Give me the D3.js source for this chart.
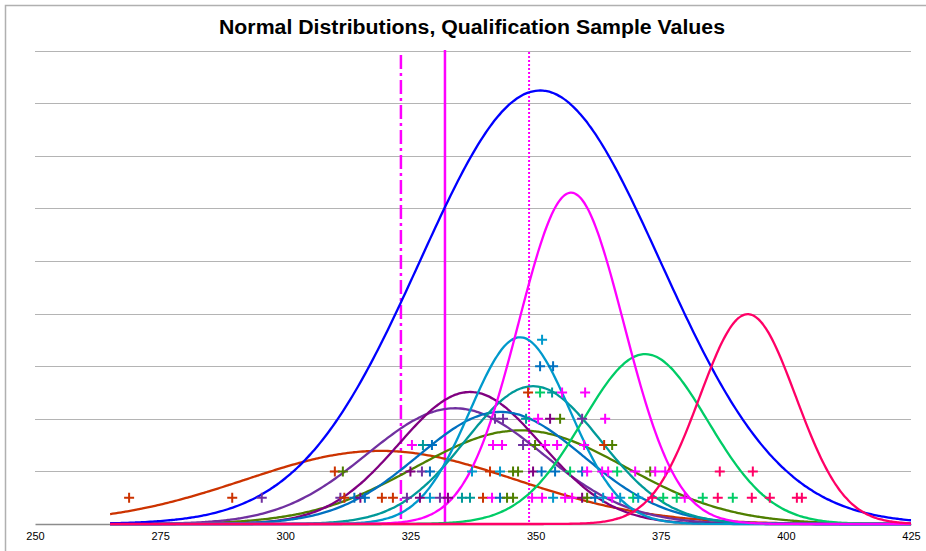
<!DOCTYPE html>
<html>
<head>
<meta charset="utf-8">
<script src="https://cdn.jsdelivr.net/npm/d3@7"></script>
<style>
  body { margin: 0; background: #fff; }
  text { font-family: "Liberation Sans", Arial, sans-serif; }
</style>
</head>
<body>
<div class="chart"></div>
<script>
// Curve parameters (mean, spread, peak height in grid units)
const seriesColors = ["#CC3300", "#4F7F00", "#7030A0", "#800080", "#0070C0", "#009999",
                      "#0099CC", "#00CC66", "#FF00FF", "#0000FF", "#FF0066"];
const seriesMeans = [319.0, 347.0, 333.9, 336.9, 343.0, 349.5, 346.9, 371.9, 357.1, 350.9, 392.4];
const seriesSDs   = [27.0, 21.0, 17.5, 14.2, 16.5, 13.5, 10.0, 12.5, 10.5, 24.0, 9.6];
const seriesPeaks = [1.39, 1.78, 2.20, 2.51, 2.13, 2.62, 3.55, 3.23, 6.30, 8.24, 3.99];
const curveStart = 265;
const curveEnd = 425;

// Sample values: [value, stack level, series index]
const markers = [
  // level 0.5
  [268.8, 0.5, 0], [289.4, 0.5, 0], [295.3, 0.5, 2], [311.0, 0.5, 2], [311.8, 0.5, 0],
  [313.8, 0.5, 4], [315.0, 0.5, 3], [315.9, 0.5, 4], [319.3, 0.5, 0], [321.5, 0.5, 0],
  [324.3, 0.5, 2], [326.9, 0.5, 3], [328.9, 0.5, 6], [330.9, 0.5, 2], [332.5, 0.5, 3],
  [335.3, 0.5, 5], [336.9, 0.5, 5], [339.5, 0.5, 0], [341.3, 0.5, 8], [342.9, 0.5, 4],
  [344.3, 0.5, 1], [345.5, 0.5, 1], [349.3, 0.5, 8], [351.3, 0.5, 8], [353.5, 0.5, 6],
  [355.9, 0.5, 8], [357.3, 0.5, 8], [359.3, 0.5, 3], [360.3, 0.5, 1], [361.9, 0.5, 4],
  [363.5, 0.5, 6], [365.3, 0.5, 8], [366.9, 0.5, 6], [369.5, 0.5, 7], [370.5, 0.5, 6],
  [373.3, 0.5, 10], [375.5, 0.5, 7], [378.2, 0.5, 7], [379.8, 0.5, 8], [383.4, 0.5, 7],
  [386.4, 0.5, 10], [389.4, 0.5, 7], [393.2, 0.5, 10], [396.8, 0.5, 10], [402.2, 0.5, 10],
  [403.2, 0.5, 10],
  // level 1
  [309.9, 1, 0], [311.5, 1, 1], [325.0, 1, 3], [327.3, 1, 2], [328.9, 1, 4], [337.3, 1, 6],
  [340.9, 1, 0], [342.9, 1, 6], [345.5, 1, 1], [346.5, 1, 1], [349.5, 1, 3], [351.2, 1, 4],
  [353.9, 1, 4], [356.9, 1, 7], [359.3, 1, 4], [360.3, 1, 8], [363.3, 1, 8], [364.5, 1, 8],
  [366.3, 1, 7], [369.9, 1, 8], [372.9, 1, 1], [373.9, 1, 8], [375.9, 1, 8], [386.8, 1, 10],
  [393.4, 1, 10],
  // level 1.5
  [325.3, 1.5, 8], [327.5, 1.5, 5], [329.3, 1.5, 4], [341.5, 1.5, 8], [343.3, 1.5, 8],
  [347.5, 1.5, 2], [349.9, 1.5, 1], [351.9, 1.5, 8], [354.3, 1.5, 8], [359.7, 1.5, 8],
  [363.7, 1.5, 0], [365.3, 1.5, 1],
  // level 2
  [341.9, 2, 2], [343.5, 2, 2], [348.1, 2, 5], [350.5, 2, 8], [352.9, 2, 3], [354.9, 2, 1],
  [359.3, 2, 2], [363.9, 2, 8],
  // level 2.5
  [348.5, 2.5, 0], [350.9, 2.5, 7], [353.3, 2.5, 5], [355.3, 2.5, 8], [359.9, 2.5, 8],
  // level 3 and 3.5
  [350.9, 3, 4], [353.5, 3, 4], [351.3, 3.5, 6]
];

// Reference lines (dash-dot, solid, dotted)
const refValues = [323.1, 331.9, 348.7];

const xTicks = [250, 275, 300, 325, 350, 375, 400, 425];
const gridLevels = [1, 2, 3, 4, 5, 6, 7, 8, 9];
const chartTitle = "Normal Distributions, Qualification Sample Values";

// Dimensions
let width = 926;
let height = 551;
let plotLeft = 35, plotRight = 911, plotTop = 50.5, plotBottom = 524;

let svg = d3.select(".chart").append("svg")
  .attr("width", width)
  .attr("height", height);

// Outer frame
svg.append("rect")
  .attr("x", 5.5).attr("y", 5.5)
  .attr("width", 940).attr("height", 560)
  .attr("fill", "none")
  .attr("stroke", "#B0B0B0")
  .attr("stroke-width", 1.5);

let x = d3.scaleLinear().domain([250, 425]).range([plotLeft, plotRight]);
let y = d3.scaleLinear().domain([0, 9]).range([plotBottom, plotTop]);

// Title
svg.append("text")
  .attr("x", 472).attr("y", 34)
  .attr("text-anchor", "middle")
  .attr("font-size", 20)
  .attr("font-weight", "bold")
  .attr("textLength", 506)
  .attr("lengthAdjust", "spacingAndGlyphs")
  .attr("fill", "#000")
  .text(chartTitle);

// Gridlines
svg.append("g").selectAll("line")
  .data(gridLevels)
  .join("line")
  .attr("x1", plotLeft).attr("x2", plotRight)
  .attr("y1", d => Math.round(y(d)) + 0.5)
  .attr("y2", d => Math.round(y(d)) + 0.5)
  .attr("stroke", "#B4B4B4")
  .attr("stroke-width", 1);

// X axis
let xAxis = svg.append("g")
  .attr("transform", "translate(0," + plotBottom + ")")
  .call(d3.axisBottom(x).tickValues(xTicks).tickSize(0).tickPadding(8));
xAxis.select(".domain").attr("stroke", "#8C8C8C").attr("stroke-width", 1.5);
xAxis.selectAll("text")
  .attr("font-family", "DejaVu Sans, sans-serif")
  .attr("font-size", 11)
  .attr("fill", "#000");

// Reference lines
const refDash = ["14,4,3,4", null, "2,2"];
const refWidth = [2.5, 2.5, 2];
const refTop = [55, 50, 52];
svg.append("g").selectAll("line")
  .data(refValues)
  .join("line")
  .attr("x1", d => x(d)).attr("x2", d => x(d))
  .attr("y1", (d, i) => refTop[i]).attr("y2", plotBottom)
  .attr("stroke", "#FF00FF")
  .attr("stroke-width", (d, i) => refWidth[i])
  .attr("stroke-dasharray", (d, i) => refDash[i]);

// Curves
let line = d3.line()
  .x(d => x(d[0]))
  .y(d => y(d[1]))
  .curve(d3.curveBasis);

let curves = seriesMeans.map((m, i) => {
  let pts = [];
  for (let v = curveStart; v <= curveEnd; v += 0.5) {
    let z = (v - m) / seriesSDs[i];
    pts.push([v, seriesPeaks[i] * Math.exp(-0.5 * z * z)]);
  }
  return pts;
});

svg.append("g").selectAll("path")
  .data(curves)
  .join("path")
  .attr("d", line)
  .attr("fill", "none")
  .attr("stroke", (d, i) => seriesColors[i])
  .attr("stroke-width", 2.3);

// Sample markers
svg.append("g").selectAll("path")
  .data(markers)
  .join("path")
  .attr("d", d => {
    let cx = x(d[0]), cy = y(d[1]);
    return "M" + (cx - 5) + "," + cy + "H" + (cx + 5) + "M" + cx + "," + (cy - 5) + "V" + (cy + 5);
  })
  .attr("fill", "none")
  .attr("stroke", d => seriesColors[d[2]])
  .attr("stroke-width", 2);
</script>
</body>
</html>
